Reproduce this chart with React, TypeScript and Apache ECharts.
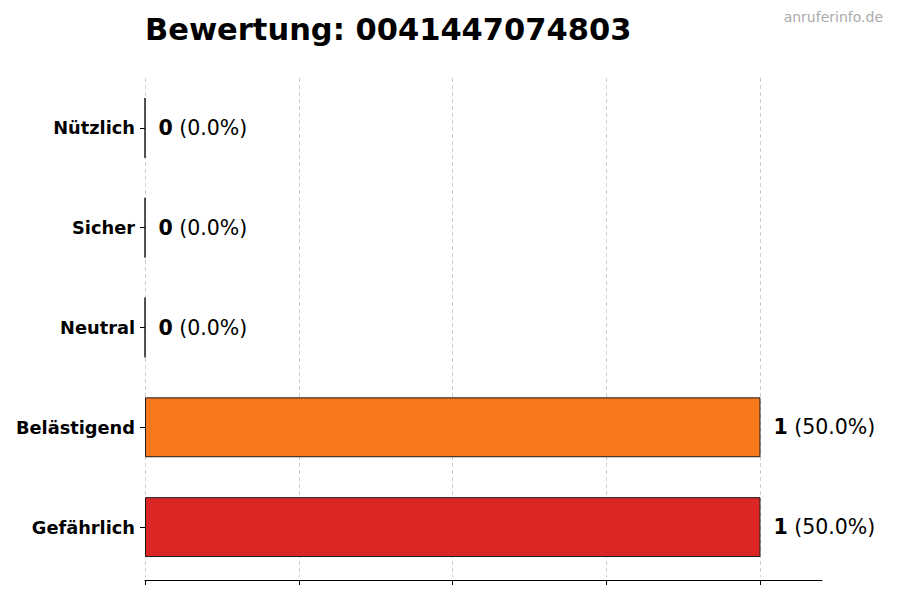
import React, { useEffect, useRef } from "react";
import * as echarts from "echarts";

const categories = ["Nützlich", "Sicher", "Neutral", "Belästigend", "Gefährlich"];
const counts = [0, 0, 0, 1, 1];
const barColors = ["#22a04a", "#2b7bd6", "#9a9a9a", "#f7771a", "#dc2626"];
const xTicks = [0, 0.25, 0.5, 0.75, 1];
const titleText = "Bewertung: 0041447074803";
const watermark = "anruferinfo.de";

const FONT = "DejaVu Sans";

export default function App() {
  const ref = useRef<HTMLDivElement>(null);
  useEffect(() => {
    document.body.style.margin = "0";
    const chart = echarts.init(ref.current!, null, { renderer: "svg" });
    const total = counts.reduce((a, b) => a + b, 0);
    chart.setOption({
      animation: false,
      textStyle: { fontFamily: FONT },
      grid: { left: 145, right: 78, top: 78, bottom: 23, containLabel: false },
      xAxis: {
        type: "value",
        min: 0,
        max: 1.1,
        interval: 0.25,
        offset: 3,
        axisLine: { show: true, lineStyle: { color: "#000", width: 1 } },
        axisTick: { show: true, length: 5, lineStyle: { color: "#000" }, customValues: xTicks },
        axisLabel: { show: false, customValues: xTicks },
        splitLine: { show: true, lineStyle: { color: "#cccccc", type: [4, 3], width: 1 } },
      },
      yAxis: {
        type: "category",
        inverse: true,
        data: categories,
        axisLine: { show: false },
        axisTick: { show: true, length: 5, alignWithLabel: true, lineStyle: { color: "#000" } },
        axisLabel: { fontFamily: FONT, fontWeight: "bold", fontSize: 17.8, color: "#000", margin: 10 },
        splitLine: { show: false },
      },
      series: [
        {
          type: "bar",
          barWidth: "60%",
          data: counts.map((v, i) => ({
            value: v,
            itemStyle: { color: barColors[i], borderColor: "#1a1a1a", borderWidth: 1 },
          })),
          label: {
            show: true,
            position: "right",
            distance: 13,
            formatter: (p: any) =>
              `{a|${p.value}}{b| (${total ? ((p.value / total) * 100).toFixed(1) : "0.0"}%)}`,
            rich: {
              a: { fontFamily: FONT, fontWeight: "bold", fontSize: 20.5, color: "#000" },
              b: { fontFamily: FONT, fontSize: 20.5, color: "#000" },
            },
          },
        },
      ],
      graphic: [
        {
          type: "text",
          left: 145,
          top: 14,
          style: { text: titleText, fontFamily: FONT, fontWeight: "bold", fontSize: 30.5, fill: "#000" },
        },
        {
          type: "text",
          right: 17,
          top: 10,
          style: { text: watermark, fontFamily: FONT, fontSize: 14, fill: "#aaaaaa" },
        },
      ],
    });
    return () => chart.dispose();
  }, []);
  return <div ref={ref} style={{ width: 900, height: 600 }} />;
}
